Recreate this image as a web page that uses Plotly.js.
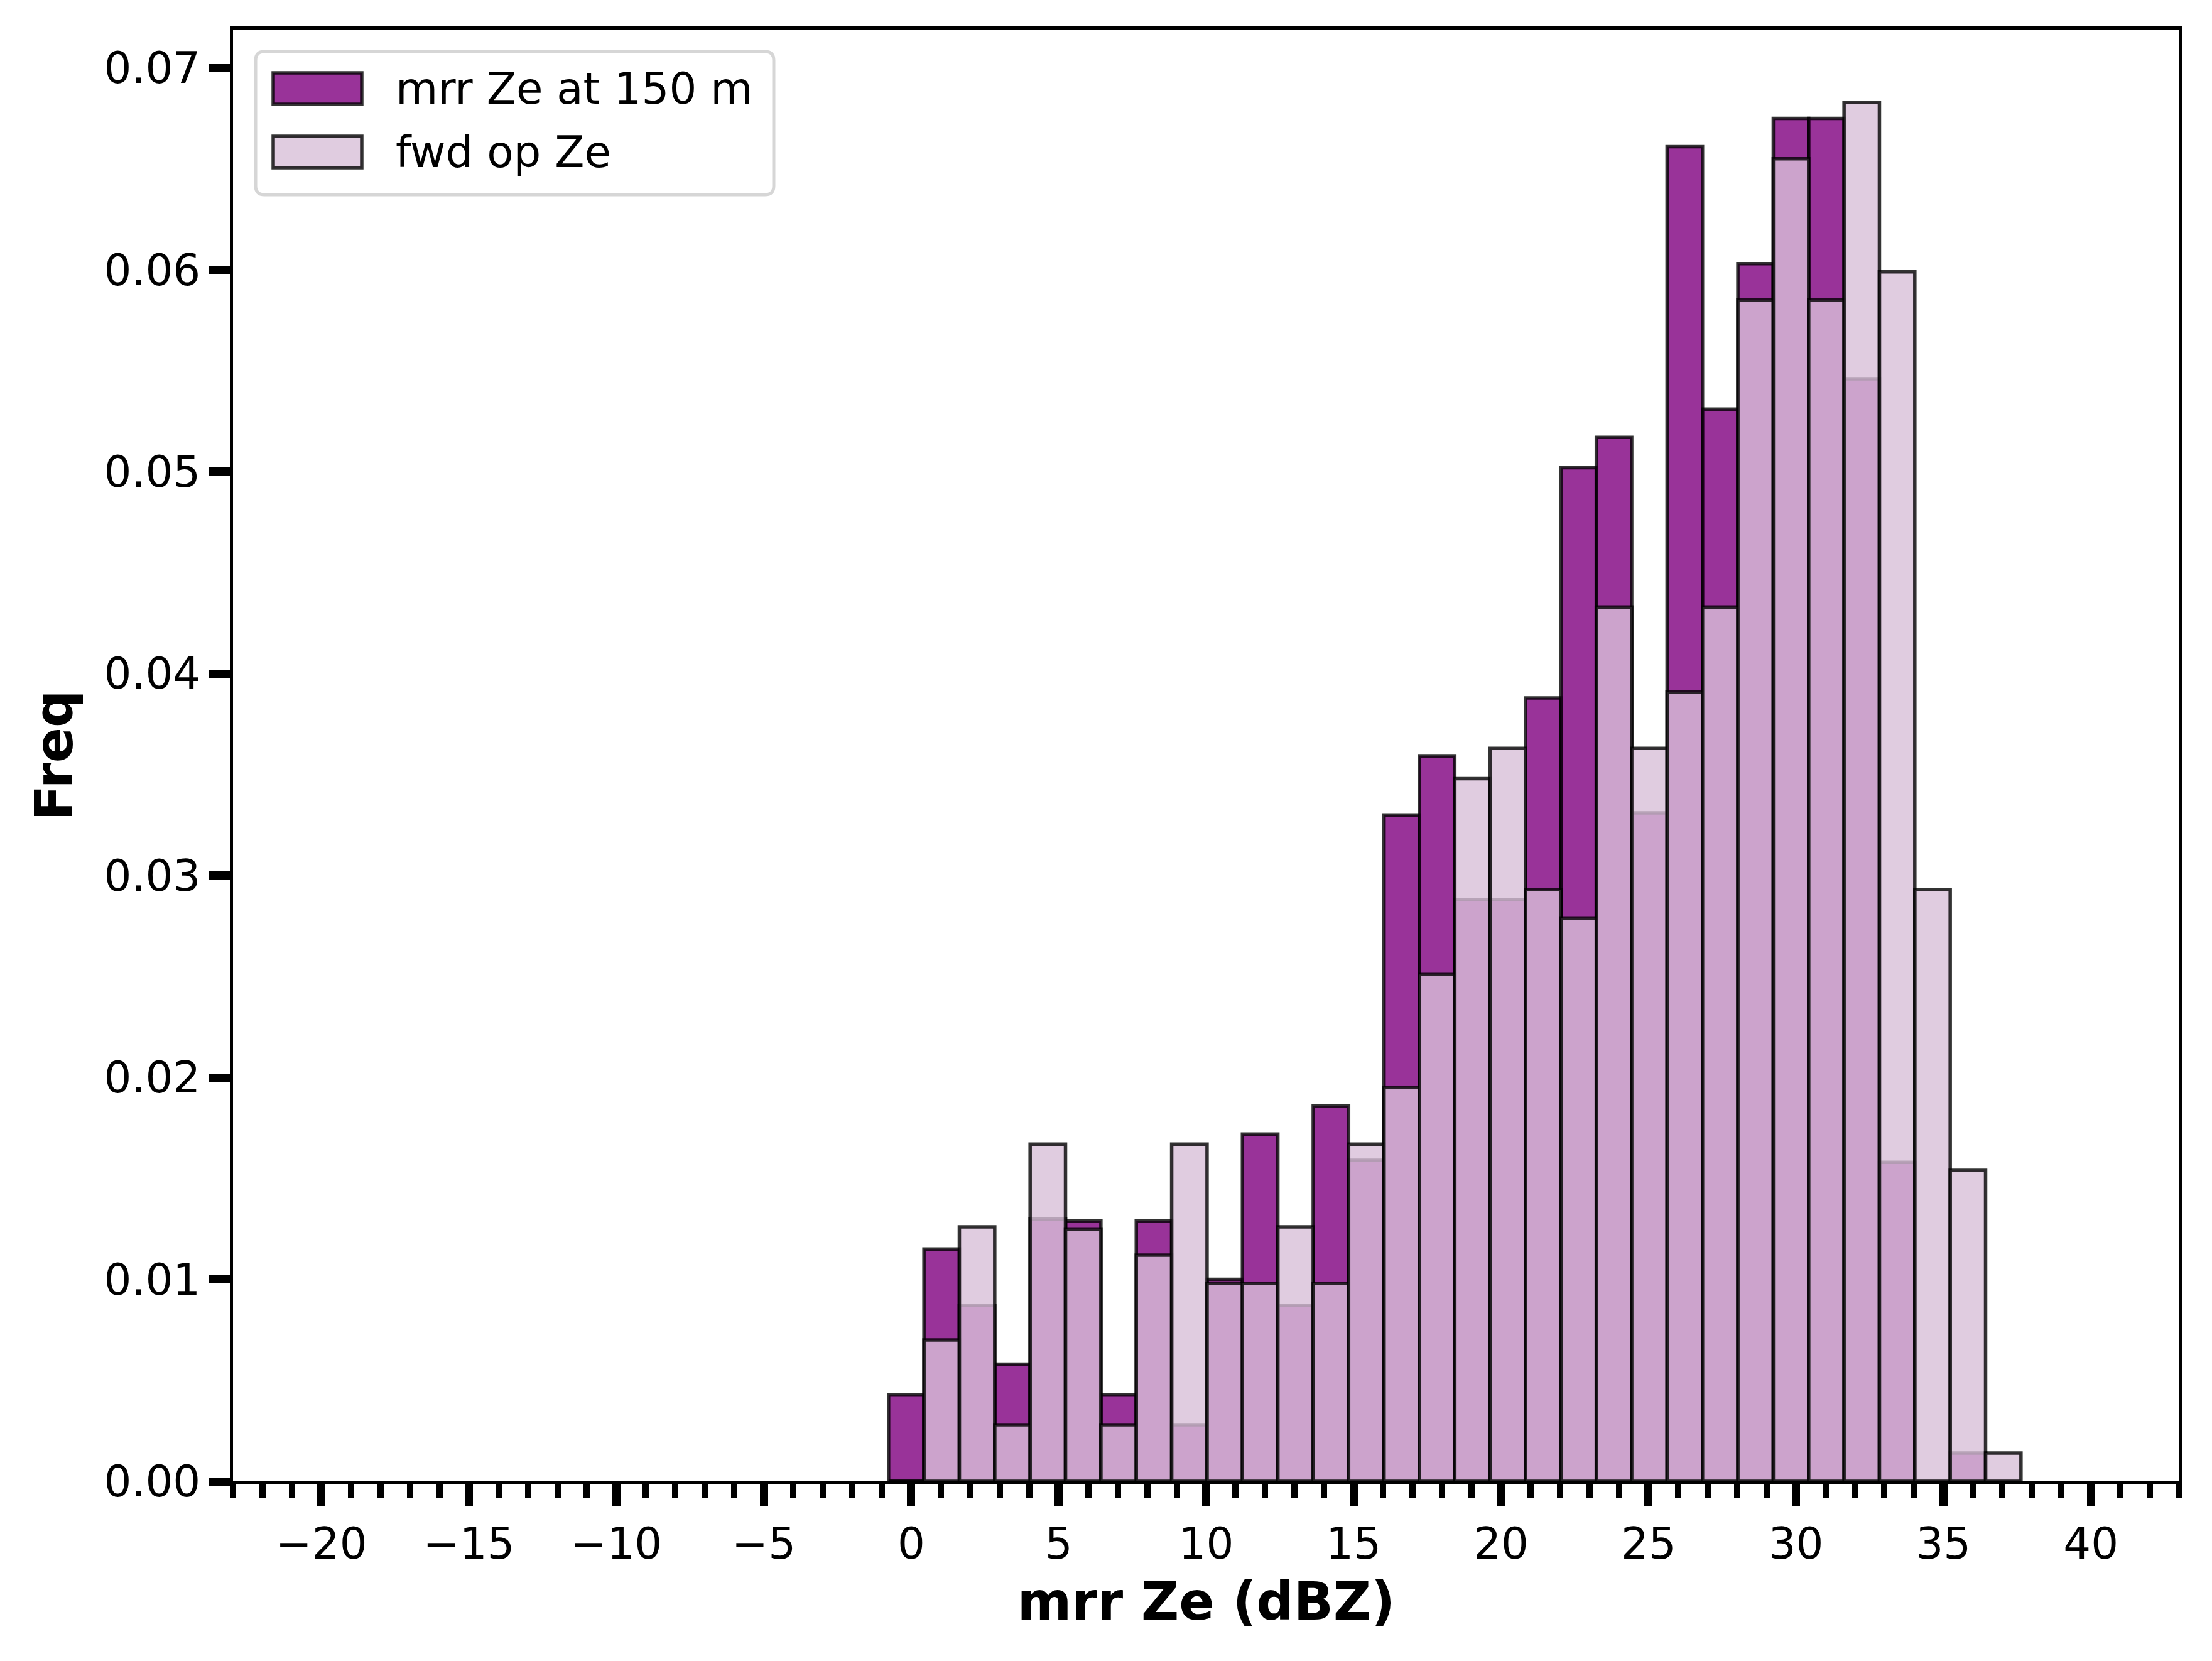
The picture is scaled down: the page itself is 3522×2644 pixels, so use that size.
<!DOCTYPE html>
<html>
<head>
<meta charset="utf-8">
<script src="https://cdn.plot.ly/plotly-3.0.1.min.js"></script>
<style>
  html, body { margin: 0; padding: 0; background: #fff; }
  #chart { width: 3522px; height: 2644px; }
</style>
</head>
<body>
<div id="chart"></div>
<script>
// bin centres (dBZ), bins are 1.2 dBZ wide
var binCenters = [-0.17, 1.03, 2.23, 3.43, 4.63, 5.83, 7.03, 8.23, 9.43, 10.63,
                  11.83, 13.03, 14.23, 15.43, 16.63, 17.83, 19.03, 20.23, 21.43, 22.63,
                  23.83, 25.03, 26.23, 27.43, 28.63, 29.83, 31.03, 32.23, 33.43, 34.63,
                  35.83, 37.03];
var binWidth = 1.2;

// normalised frequencies
var mrrFreq = [0.0043, 0.0115, 0.0087, 0.0058, 0.0130, 0.0129, 0.0043, 0.0129, 0.0028, 0.0100,
               0.0172, 0.0087, 0.0186, 0.0159, 0.0330, 0.0359, 0.0288, 0.0288, 0.0388, 0.0502,
               0.0517, 0.0331, 0.0661, 0.0531, 0.0603, 0.0675, 0.0675, 0.0546, 0.0158, 0.0,
               0.0014, 0.0];
var fwdFreq = [0.0, 0.0070, 0.0126, 0.0028, 0.0167, 0.0125, 0.0028, 0.0112, 0.0167, 0.0098,
               0.0098, 0.0126, 0.0098, 0.0167, 0.0195, 0.0251, 0.0348, 0.0363, 0.0293, 0.0279,
               0.0433, 0.0363, 0.0391, 0.0433, 0.0585, 0.0655, 0.0585, 0.0683, 0.0599, 0.0293,
               0.0154, 0.0014];

var seriesNames = ['mrr Ze at 150 m', 'fwd op Ze'];
var xTickVals = [-20, -15, -10, -5, 0, 5, 10, 15, 20, 25, 30, 35, 40];
var yTickVals = [0.00, 0.01, 0.02, 0.03, 0.04, 0.05, 0.06, 0.07];

const FONT = 'DejaVu Sans, Verdana, sans-serif';
const mrrColor = 'rgba(128,0,128,0.8)';
const fwdColor = 'rgba(216,191,216,0.8)';
const edgeColor = 'rgba(0,0,0,0.8)';

// plot area in pixels
const W = 3522, H = 2644;
const L = 371, R = 3470, T = 47, B = 2358;
function px(x) { return (x - L) / (R - L); }
function py(y) { return (B - y) / (B - T); }

var traces = [
    {
        type: 'bar', x: binCenters, y: mrrFreq, width: binWidth, name: seriesNames[0],
        marker: { color: mrrColor, line: { color: edgeColor, width: 5.5 } },
        hoverinfo: 'x+y'
    },
    {
        type: 'bar', x: binCenters, y: fwdFreq, width: binWidth, name: seriesNames[1],
        marker: { color: fwdColor, line: { color: edgeColor, width: 5.5 } },
        hoverinfo: 'x+y'
    }
];

// hand-made legend so the swatches are matplotlib sized
var shapes = [];
var annotations = [];
var fx0 = 407, fx1 = 1232, fy0 = 82, fy1 = 310, rad = 14;
var rx = rad / (R - L), ry = rad / (B - T);
var a = px(fx0), b = px(fx1), c = py(fy0), d = py(fy1);
shapes.push({
    type: 'path', xref: 'paper', yref: 'paper', layer: 'above',
    path: 'M' + (a + rx) + ',' + c + ' L' + (b - rx) + ',' + c + ' Q' + b + ',' + c + ' ' + b + ',' + (c - ry) +
          ' L' + b + ',' + (d + ry) + ' Q' + b + ',' + d + ' ' + (b - rx) + ',' + d +
          ' L' + (a + rx) + ',' + d + ' Q' + a + ',' + d + ' ' + a + ',' + (d + ry) +
          ' L' + a + ',' + (c - ry) + ' Q' + a + ',' + c + ' ' + (a + rx) + ',' + c + ' Z',
    fillcolor: 'rgba(255,255,255,0.8)',
    line: { color: '#d6d6d6', width: 5 }
});
var rowY = [141, 242];
var swatchColors = [mrrColor, fwdColor];
for (var i = 0; i < seriesNames.length; i++) {
    shapes.push({
        type: 'rect', xref: 'paper', yref: 'paper', layer: 'above',
        x0: px(435), x1: px(576), y0: py(rowY[i] - 25), y1: py(rowY[i] + 25),
        fillcolor: swatchColors[i],
        line: { color: edgeColor, width: 5.5 }
    });
    annotations.push({
        xref: 'paper', yref: 'paper', x: px(628), y: py(rowY[i]),
        xanchor: 'left', yanchor: 'middle', showarrow: false,
        text: seriesNames[i],
        font: { family: FONT, size: 69, color: '#000' }
    });
}

var layout = {
    width: W, height: H,
    margin: { l: L, r: W - R, t: T, b: H - B, pad: 0 },
    paper_bgcolor: '#fff', plot_bgcolor: '#fff',
    barmode: 'overlay', bargap: 0,
    showlegend: false,
    font: { family: FONT, size: 69, color: '#000' },
    xaxis: {
        range: [-23, 43],
        tickmode: 'array', tickvals: xTickVals,
        ticks: 'outside', ticklen: 35, tickwidth: 13, tickcolor: '#000',
        minor: { dtick: 1, tick0: 0, ticks: 'outside', ticklen: 21, tickwidth: 10, tickcolor: '#000' },
        showline: true, linecolor: '#000', linewidth: 5, mirror: true,
        showgrid: false, zeroline: false,
        tickfont: { family: FONT, size: 69, color: '#000' },
        title: { text: '<b>mrr Ze (dBZ)</b>', font: { family: FONT, size: 83, color: '#000' }, standoff: 26 }
    },
    yaxis: {
        range: [0, 0.0719],
        tickmode: 'array', tickvals: yTickVals, tickformat: '.2f',
        ticks: 'outside', ticklen: 33, tickwidth: 13, tickcolor: '#000',
        showline: true, linecolor: '#000', linewidth: 5, mirror: true,
        showgrid: false, zeroline: false,
        tickfont: { family: FONT, size: 69, color: '#000' },
        title: { text: '<b>Freq</b>', font: { family: FONT, size: 83, color: '#000' }, standoff: 24 }
    },
    shapes: shapes,
    annotations: annotations
};

Plotly.newPlot('chart', traces, layout, { staticPlot: true });
</script>
</body>
</html>
